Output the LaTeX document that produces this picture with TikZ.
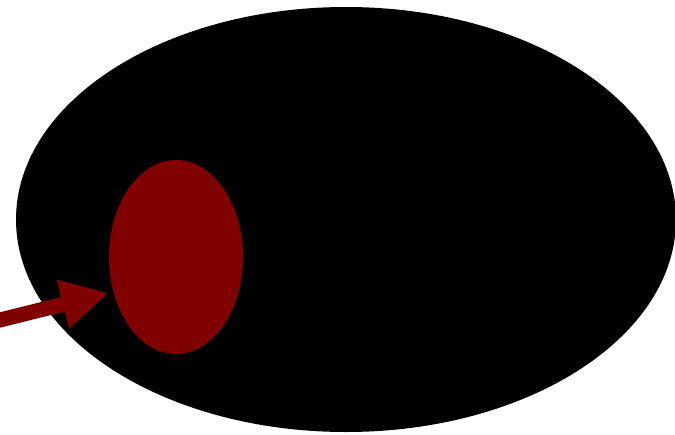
\documentclass[tikz,border=0pt]{standalone}
\usepackage{xcolor}
\usepackage{tikz}
\usetikzlibrary{
  shapes.geometric, arrows.meta, positioning, calc
}
\definecolor{maroon}{HTML}{800000}
\tikzset{
  %% Filled ellipse region
  blob/.style={
    ellipse, draw=none, fill=#1,
    inner sep=0pt, outer sep=0pt
  },
  blob/.default=black,
  %% Thick pointer arrow
  pointer/.style={-{Triangle[length=47pt,width=47pt]},
              draw=maroon, fill=maroon, line width=15pt,
              shorten >=5pt},
}

\begin{document}
\begin{tikzpicture}[x=1pt, y=-1pt]
  \useasboundingbox (0,0) rectangle (675,434);
  %% outer and inner regions
  \node[blob, minimum width=660pt, minimum height=425pt] (outer) at (346,219.5) {};
  \node[blob=maroon, minimum width=134pt, minimum height=194pt] (inner) at (176,257) {};
  %% arrow coming in from the left
  \coordinate (tail) at (-10,322.5);
  \draw[pointer] (tail) -- (inner.209);
\end{tikzpicture}
\end{document}
